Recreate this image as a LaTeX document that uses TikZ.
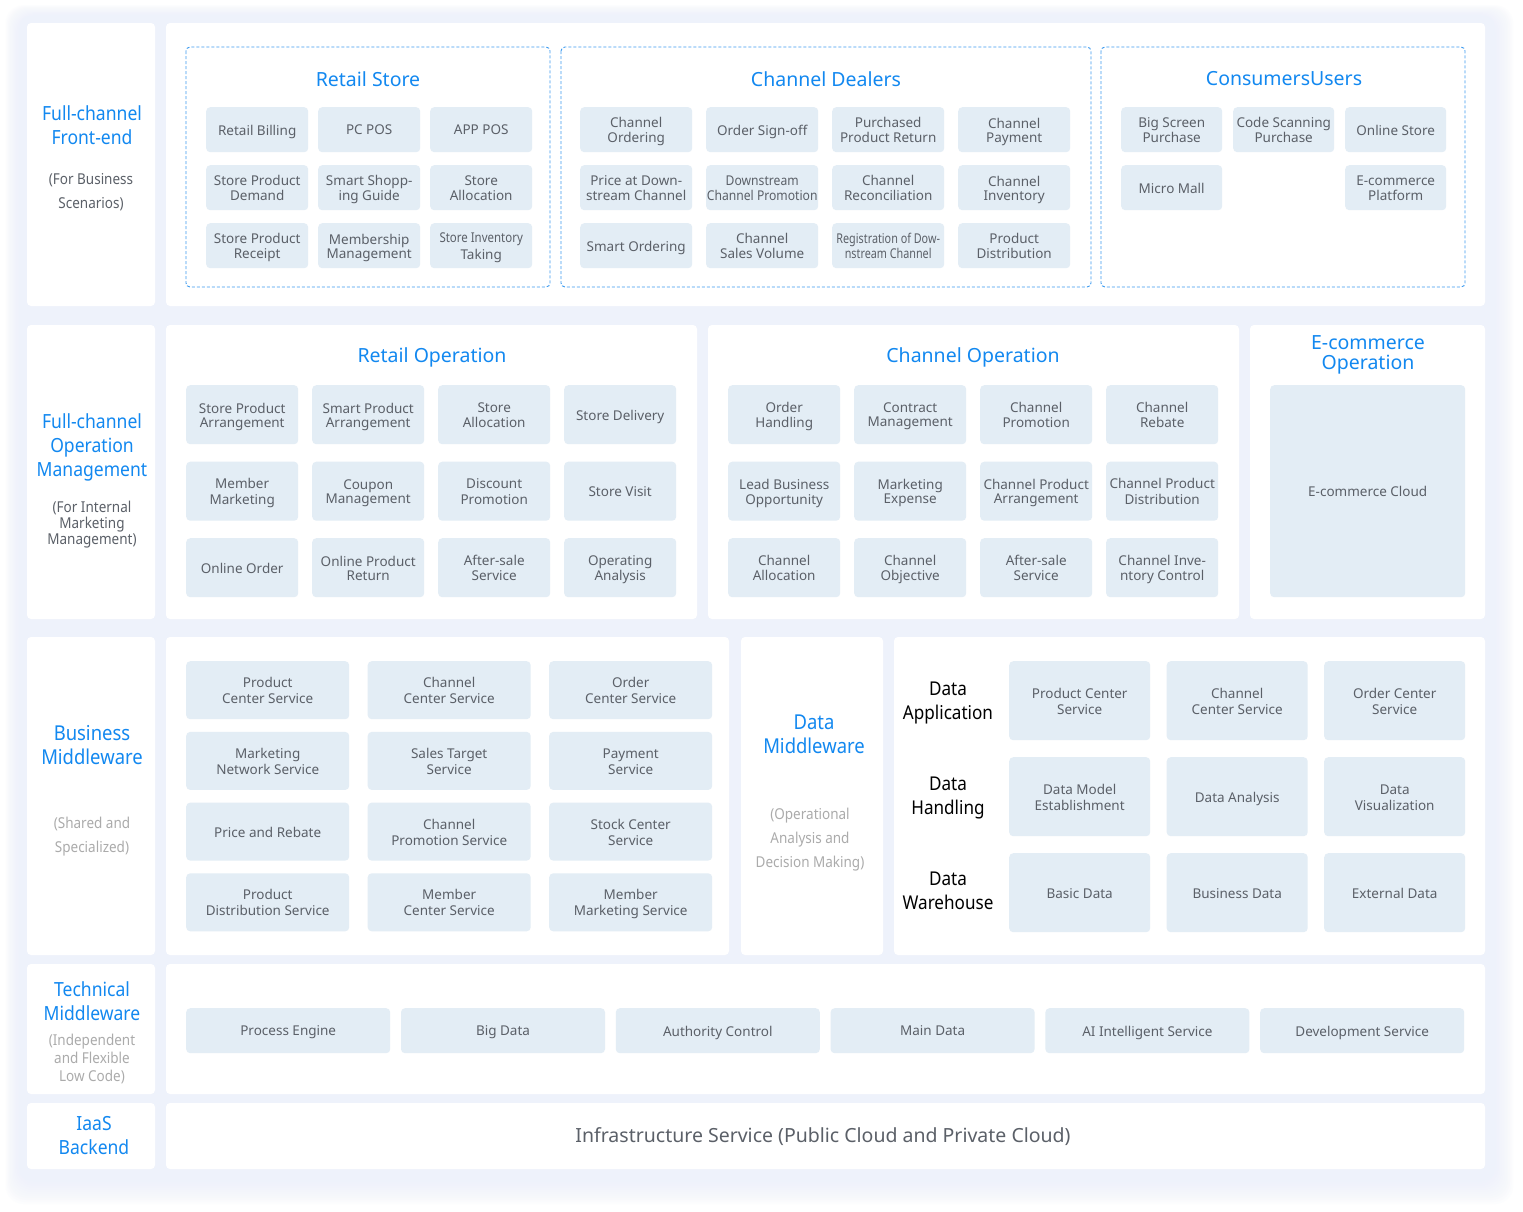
\documentclass[tikz,border=0pt]{standalone}
\usepackage{fontspec}
\setmainfont{Noto Sans}
\newfontfamily\condfont[FakeStretch=0.9]{Noto Sans}
\usepackage{graphicx}
\definecolor{bgc}{HTML}{EEF2FB}
\definecolor{blu}{HTML}{1288F0}
\definecolor{boxc}{HTML}{E3EDF5}
\definecolor{txt}{HTML}{5B6068}
\definecolor{lgr}{HTML}{ABABAB}
\definecolor{dsh}{HTML}{3D9BF0}
\newcommand\cell[6]{%
  \node[bx,anchor=north west,minimum width=#4pt,minimum height=#5pt] (#1) at (#2,#3) {};
  \node[bxt] (#1t) at ([yshift=-2.4pt]#1.center) {\strut#6\strut};}
\newcommand\gridcells[9]{%
  \foreach \t [count=\i from 0] in {#9} {%
    \pgfmathtruncatemacro\cc{mod(\i,#8)}%
    \pgfmathtruncatemacro\rr{div(\i,#8)}%
    \pgfmathsetmacro\xx{#2+\cc*#6}%
    \pgfmathsetmacro\yy{#3+\rr*#7}%
    \cell{#1\i}{\xx}{\yy}{#4}{#5}{\t}
  }}
\newcommand\squeezed[2][0.8]{\scalebox{#1}[1]{\begin{tabular}{@{}c@{}}#2\end{tabular}}}
\begin{document}
\begin{tikzpicture}[x=1pt,y=-1pt,
  bx/.style={fill=boxc,rounded corners=4pt,inner sep=0pt},
  bxt/.style={inner sep=0pt,align=center,text=txt,font=\fontsize{13.5}{14}\selectfont},
  panel/.style={fill=white,rounded corners=4pt},
  dashbox/.style={draw=dsh,line width=0.9pt,dash pattern=on 3pt off 2pt,rounded corners=4pt},
  ttl/.style={text=blu,align=center,font=\fontsize{19.5}{20}\selectfont},
  side/.style={text=blu,align=center,font=\condfont\fontsize{19.5}{24}\selectfont},
  sub/.style={text=txt,align=center,font=\condfont\fontsize{15}{24}\selectfont},
  lsub/.style={text=lgr,align=center,font=\condfont\fontsize{15}{24}\selectfont},
  dlab/.style={text=black,align=center,font=\condfont\fontsize{19}{24}\selectfont}]
\useasboundingbox (0,0) rectangle (1523,1211);
\fill[white] (0,0) rectangle (1523,1211);
% soft background
\foreach \k in {1,...,12}
  \fill[bgc,opacity=0.12,rounded corners=18pt] (20-\k*1.2,16-\k*0.9) rectangle (1494+\k*1.6,1180+\k*2);
\fill[bgc,rounded corners=10pt] (20,16) rectangle (1494,1180);

% ---------- Row 1 ----------
\fill[panel] (27,23) rectangle (155,306);
\fill[panel] (166,23) rectangle (1485,306);
\draw[dashbox] (186,47) rectangle (550,287);
\draw[dashbox] (561,47) rectangle (1091,287);
\draw[dashbox] (1101,47) rectangle (1465,287);
\node[side] (l1) at (92,125) {Full-channel\\Front-end};
\node[sub] (l1s) at (91,192) {(For Business\\Scenarios)};
\node[ttl] (t1) at (368,79) {Retail Store};
\node[ttl] (t2) at (826,79) {Channel Dealers};
\node[ttl] (t3) at (1284,79) {ConsumersUsers};
\gridcells{rs}{206}{107}{102}{45}{112}{58}{3}{Retail Billing,PC POS,APP POS,{Store Product\\Demand},{Smart Shopp-\\ing Guide},{Store\\Allocation},{Store Product\\Receipt},{Membership\\Management},{\squeezed[0.85]{Store Inventory}\\Taking}}
\gridcells{cd}{580}{107}{112}{45}{126}{58}{4}{{Channel\\Ordering},Order Sign-off,{Purchased\\Product Return},{Channel\\Payment},{Price at Down-\\stream Channel},{\squeezed[0.9]{Downstream\\Channel Promotion}},{Channel\\Reconciliation},{Channel\\Inventory},Smart Ordering,{Channel\\Sales Volume},{\squeezed{Registration of Dow-\\nstream Channel}},{Product\\Distribution}}
\cell{cu0}{1121}{107}{101}{45}{Big Screen\\Purchase}
\cell{cu1}{1233}{107}{101}{45}{Code Scanning\\Purchase}
\cell{cu2}{1345}{107}{101}{45}{Online Store}
\cell{cu3}{1121}{165}{101}{45}{Micro Mall}
\cell{cu4}{1345}{165}{101}{45}{E-commerce\\Platform}

% ---------- Row 2 ----------
\fill[panel] (27,325) rectangle (155,619);
\fill[panel] (166,325) rectangle (697,619);
\fill[panel] (708,325) rectangle (1239,619);
\fill[panel] (1250,325) rectangle (1485,619);
\node[side] (l2) at (92,447) {Full-channel\\Operation\\Management};
\node[sub,font=\condfont\fontsize{15}{16}\selectfont] (l2s) at (92,525) {(For Internal\\Marketing\\Management)};
\node[ttl] (t4) at (432,357) {Retail Operation};
\node[ttl] (t5) at (973,357) {Channel Operation};
\node[ttl] (t6) at (1368,355) {E-commerce\\Operation};
\gridcells{ro}{186}{385}{112}{59}{126}{76.5}{4}{{Store Product\\Arrangement},{Smart Product\\Arrangement},{Store\\Allocation},Store Delivery,{Member\\Marketing},{Coupon\\Management},{Discount\\Promotion},Store Visit,Online Order,{Online Product\\Return},{After-sale\\Service},{Operating\\Analysis}}
\gridcells{co}{728}{385}{112}{59}{126}{76.5}{4}{{Order\\Handling},{Contract\\Management},{Channel\\Promotion},{Channel\\Rebate},{Lead Business\\Opportunity},{Marketing\\Expense},{Channel Product\\Arrangement},{Channel Product\\Distribution},{Channel\\Allocation},{Channel\\Objective},{After-sale\\Service},{Channel Inve-\\ntory Control}}
\cell{ec}{1270}{385}{195}{212}{E-commerce Cloud}

% ---------- Row 3 ----------
\fill[panel] (27,637) rectangle (155,955);
\fill[panel] (166,637) rectangle (729,955);
\fill[panel] (741,637) rectangle (883,955);
\fill[panel] (894,637) rectangle (1485,955);
\node[side,font=\condfont\fontsize{20.5}{24}\selectfont] (l3) at (92,745) {Business\\Middleware};
\node[lsub] (l3s) at (92,837) {(Shared and\\Specialized)};
\node[side,font=\condfont\fontsize{20.5}{24}\selectfont] (l4) at (814,734) {Data\\Middleware};
\node[lsub] (l4s) at (810,840) {(Operational\\Analysis and\\Decision Making)};
\begin{scope}[bxt/.append style={font=\fontsize{13.5}{16}\selectfont}]
\gridcells{bm}{186}{661}{163}{58}{181.5}{70.7}{3}{{Product\\Center Service},{Channel\\Center Service},{Order\\Center Service},{Marketing\\Network Service},{Sales Target\\Service},{Payment\\Service},Price and Rebate,{Channel\\Promotion Service},{Stock Center\\Service},{Product\\Distribution Service},{Member\\Center Service},{Member\\Marketing Service}}
\gridcells{dm}{1009}{661}{141}{79}{157.5}{96}{3}{{Product Center\\Service},{Channel\\Center Service},{Order Center\\Service},{Data Model\\Establishment},Data Analysis,{Data\\Visualization},Basic Data,Business Data,External Data}
\end{scope}
\node[dlab] (d1) at (948,703) {Data\\Application};
\node[dlab] (d2) at (948,798) {Data\\Handling};
\node[dlab] (d3) at (948,891) {Data\\Warehouse};

% ---------- Row 4 ----------
\fill[panel] (27,964) rectangle (155,1094);
\fill[panel] (166,964) rectangle (1485,1094);
\node[side] (l5) at (92,1001) {Technical\\Middleware};
\node[lsub,font=\condfont\fontsize{15}{18}\selectfont] (l5s) at (92,1059) {(Independent\\and Flexible\\Low Code)};
\gridcells{tm}{186}{1008}{204}{45}{214.8}{0}{6}{Process Engine,Big Data,Authority Control,Main Data,AI Intelligent Service,Development Service}

% ---------- Row 5 ----------
\fill[panel] (27,1103) rectangle (155,1169);
\fill[panel] (166,1103) rectangle (1485,1169);
\node[side] (l6) at (94,1136) {IaaS\\Backend};
\node[text=txt,font=\fontsize{19.5}{20}\selectfont] (inf) at (823,1137) {Infrastructure Service (Public Cloud and Private Cloud)};
\end{tikzpicture}
\end{document}
